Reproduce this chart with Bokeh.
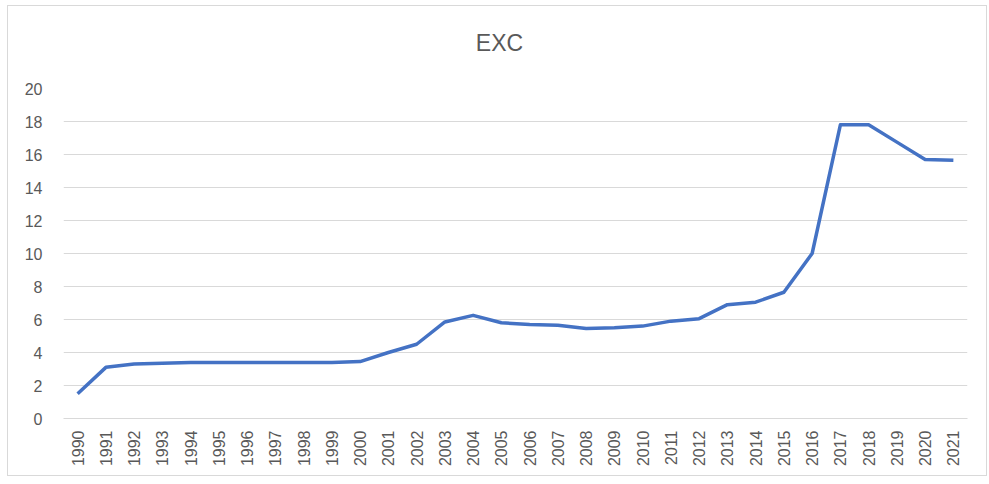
from bokeh.plotting import figure
from bokeh.models import FixedTicker, Range1d
from bokeh.embed import file_html
from bokeh.resources import INLINE
import math

# Annual EXC values, 1990-2021
years = list(range(1990, 2022))
exc = [1.5, 3.1, 3.3, 3.35, 3.4, 3.4, 3.4, 3.4, 3.4, 3.4, 3.45, 4.0,
       4.5, 5.85, 6.25, 5.8, 5.7, 5.65, 5.45, 5.5, 5.6, 5.9, 6.05,
       6.9, 7.05, 7.65, 10.0, 17.8, 17.8, 16.75, 15.7, 15.65]
y_ticks = list(range(0, 21, 2))

FONT = "Liberation Sans"
TEXT = "#595959"
GRID = "#d9d9d9"

p = figure(width=980, height=471, output_backend="svg", toolbar_location=None,
           title="EXC",
           x_range=Range1d(years[0] - 0.5, years[-1] + 0.5),
           y_range=Range1d(0, 20),
           min_border_left=55, min_border_right=21,
           min_border_top=82, min_border_bottom=59)
p.styles = {"margin-left": "7px", "margin-top": "5px",
            "border": "1px solid #d9d9d9"}

p.title.align = "center"
p.title.text_font = FONT
p.title.text_font_size = "23px"
p.title.text_font_style = "normal"
p.title.text_color = TEXT
p.title.standoff = 0
# (left, right, top, bottom)
p.title.padding = (0, 32, 0, 33)

p.outline_line_color = None
p.background_fill_color = "white"
p.border_fill_color = "white"

p.xgrid.grid_line_color = None
p.ygrid.grid_line_color = GRID
p.ygrid.grid_line_width = 1

p.yaxis.ticker = FixedTicker(ticks=y_ticks)
p.yaxis.axis_line_color = None
p.yaxis.major_tick_line_color = None
p.yaxis.minor_tick_line_color = None
p.yaxis.major_label_standoff = 15
p.yaxis.major_label_text_font = FONT
p.yaxis.major_label_text_font_size = "16px"
p.yaxis.major_label_text_color = TEXT

p.xaxis.ticker = FixedTicker(ticks=years)
p.xaxis.axis_line_color = GRID
p.xaxis.major_tick_line_color = None
p.xaxis.minor_tick_line_color = None
p.xaxis.major_label_orientation = math.pi / 2
p.xaxis.major_label_standoff = 6
p.xaxis.major_label_text_font = FONT
p.xaxis.major_label_text_font_size = "16px"
p.xaxis.major_label_text_color = TEXT

p.line(years, exc, line_color="#4472C4", line_width=3.5, line_join="round")

open("out.html", "w").write(file_html(p, INLINE))
